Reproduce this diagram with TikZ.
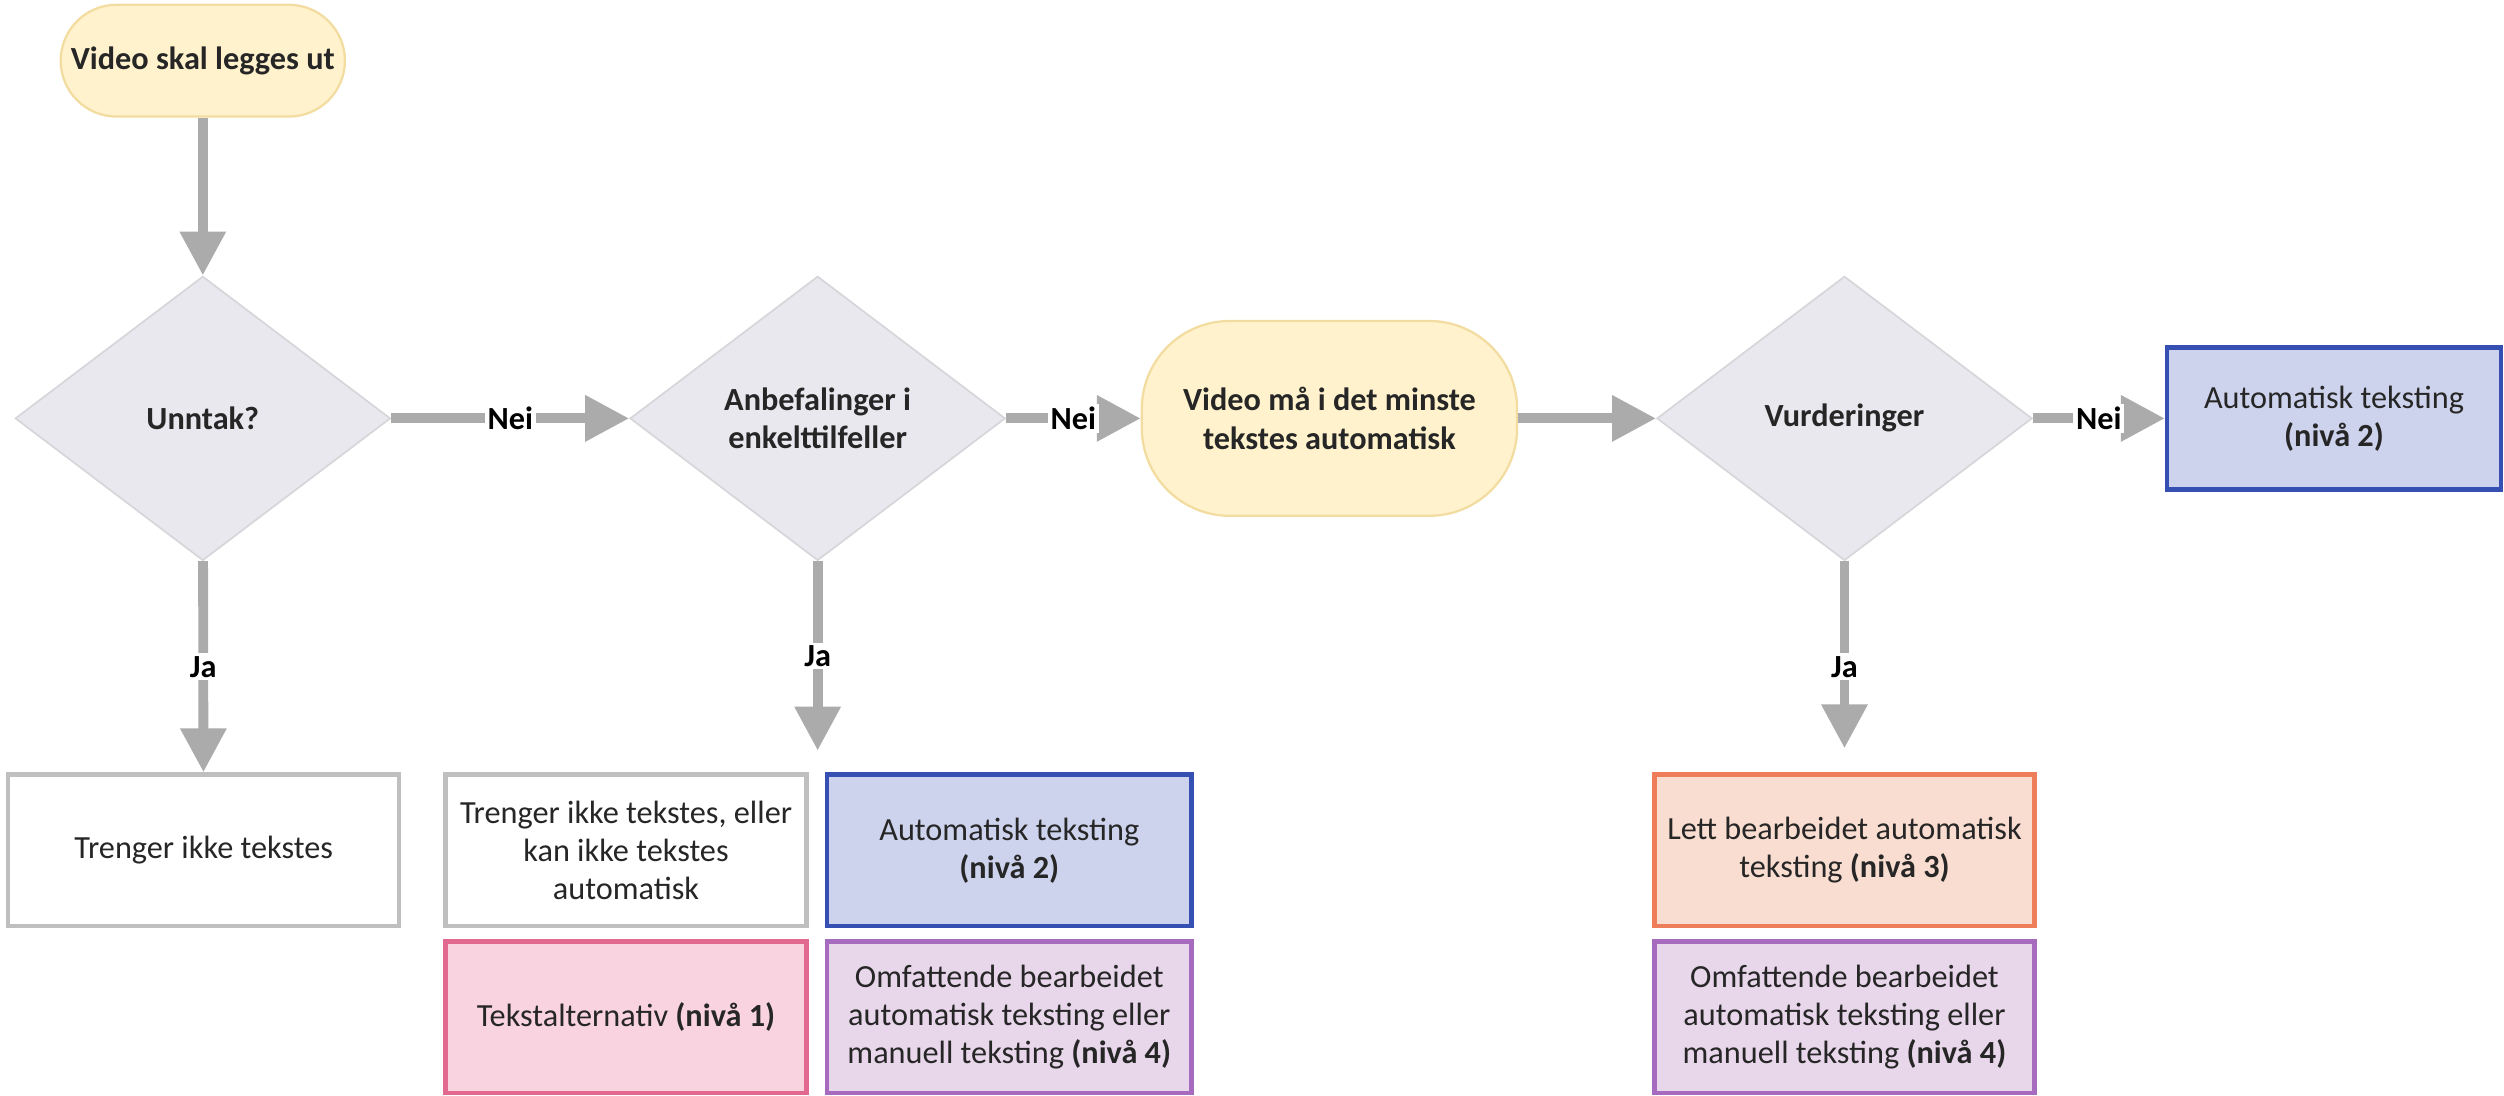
\documentclass[tikz,border=0pt]{standalone}
\usepackage{fontspec}
\setmainfont{Carlito}
\usepackage{xcolor}
\usepackage{tikz}
\usetikzlibrary{arrows.meta,shapes.geometric}

\definecolor{pillfill}{HTML}{FFF2CC}
\definecolor{pillline}{HTML}{F2DCA0}
\definecolor{choicefill}{HTML}{E8E8EE}
\definecolor{choiceline}{HTML}{D6D6DA}
\definecolor{flowgray}{HTML}{ABABAB}
\definecolor{textdark}{HTML}{262626}
\definecolor{grayline}{HTML}{BFBFBF}
\definecolor{grayfill}{HTML}{FFFFFF}
\definecolor{blueline}{HTML}{3550B2}
\definecolor{bluefill}{HTML}{CDD3EC}
\definecolor{pinkline}{HTML}{E2688F}
\definecolor{pinkfill}{HTML}{F9D4E0}
\definecolor{purpleline}{HTML}{A66BBE}
\definecolor{purplefill}{HTML}{E8D6EA}
\definecolor{orangeline}{HTML}{EE7E5A}
\definecolor{orangefill}{HTML}{F9DDD0}

\begin{document}
\begin{tikzpicture}[font=\fontsize{11.5}{13.6}\selectfont, text=textdark,
    pill/.style={draw=pillline, fill=pillfill, line width=0.8pt, align=center, font=\fontsize{11.5}{13.6}\selectfont\bfseries},
    choice/.style={shape=diamond, draw=choiceline, fill=choicefill, line width=0.6pt, minimum width=4.7cm, minimum height=3.56cm, inner sep=0pt, align=center, font=\fontsize{11.5}{13.6}\selectfont\bfseries},
    box/.style={draw=#1line, fill=#1fill, line width=1.6pt, align=center, minimum height=1.9cm, inner sep=1pt},
    flow/.style={draw=flowgray, line width=3.5pt, -{Triangle[width=0.55cm,length=0.55cm]}},
    lbl/.style={fill=white, inner sep=1pt, text=black, font=\fontsize{11.5}{13.6}\selectfont\bfseries}]
    \useasboundingbox (0,0) rectangle (31.36,-13.72);

    \node[pill, rounded corners=0.7cm, minimum width=3.56cm, minimum height=1.4cm] (0) at (2.54, -0.76) {Video skal legges ut};
    \node[choice] (1) at (2.54, -5.24) {Unntak?};
    \node[choice] (2) at (10.24, -5.24) {Anbefalinger i\\enkelttilfeller};
    \node[pill, rounded corners=1.1cm, minimum width=4.7cm, minimum height=2.44cm] (3) at (16.65, -5.24) {Video må i det minste\\tekstes automatisk};
    \node[choice] (4) at (23.1, -5.24) {Vurderinger};
    \node[box=blue, minimum width=4.18cm, minimum height=1.78cm] (5) at (29.23, -5.24) {Automatisk teksting\\\textbf{(nivå 2)}};

    \node[box=gray, minimum width=4.9cm] (6) at (2.55, -10.65) {Trenger ikke tekstes};
    \node[box=gray, minimum width=4.52cm] (7) at (7.84, -10.65) {Trenger ikke tekstes, eller\\kan ikke tekstes\\automatisk};
    \node[box=blue, minimum width=4.56cm] (8) at (12.64, -10.65) {Automatisk teksting\\\textbf{(nivå 2)}};
    \node[box=pink, minimum width=4.52cm] (9) at (7.84, -12.74) {Tekstalternativ \textbf{(nivå 1)}};
    \node[box=purple, minimum width=4.56cm] (10) at (12.64, -12.74) {Omfattende bearbeidet\\automatisk teksting eller\\manuell teksting \textbf{(nivå 4)}};
    \node[box=orange, minimum width=4.76cm] (11) at (23.1, -10.65) {Lett bearbeidet automatisk\\teksting \textbf{(nivå 3)}};
    \node[box=purple, minimum width=4.76cm] (12) at (23.1, -12.74) {Omfattende bearbeidet\\automatisk teksting eller\\manuell teksting \textbf{(nivå 4)}};
    \coordinate (2ja) at (10.24, -9.4);

    \draw[flow] (0) -- (1);
    \draw[flow] (1) -- node[lbl] {Nei} (2);
    \draw[flow] (2) -- node[lbl] {Nei} (3);
    \draw[flow] (3) -- (4);
    \draw[flow] (4) -- node[lbl] {Nei} (5);
    \draw[flow] (1) -- node[lbl] {Ja} (6);
    \draw[flow] (2) -- node[lbl] {Ja} (2ja);
    \draw[flow, shorten >=0.3cm] (4) -- node[lbl] {Ja} (11);
\end{tikzpicture}
\end{document}
